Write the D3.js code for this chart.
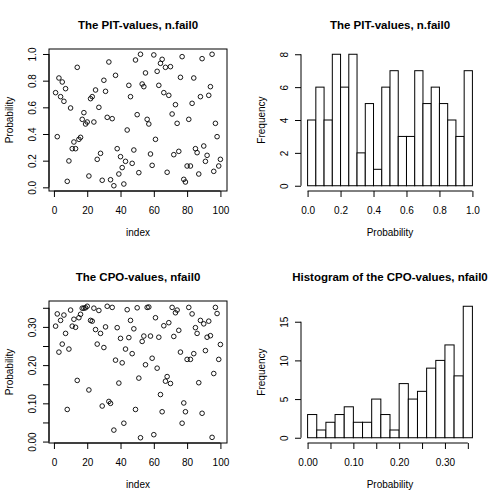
<!DOCTYPE html>
<html>
<head>
<meta charset="utf-8">
<script src="https://cdn.jsdelivr.net/npm/d3@7"></script>
<style>
  html, body { margin: 0; padding: 0; background: #fff; }
  svg { display: block; }
  text { font-family: "Liberation Sans", Arial, Helvetica, sans-serif; fill: #000; }
</style>
</head>
<body>
<svg id="chart" width="504" height="504"></svg>
<script>
// ---------------- data ----------------
const pitValues = [
  0.71, 0.38, 0.82, 0.68, 0.79, 0.645, 0.74, 0.045, 0.198, 0.595,
  0.29, 0.34, 0.29, 0.90, 0.36, 0.375, 0.51, 0.56, 0.475, 0.49,
  0.085, 0.665, 0.68, 0.49, 0.73, 0.21, 0.60, 0.255, 0.053, 0.803,
  0.72, 0.525, 0.94, 0.057, 0.515, 0.012, 0.84, 0.29, 0.10, 0.23,
  0.148, 0.025, 0.195, 0.43, 0.765, 0.68, 0.18, 0.28, 0.955, 0.545,
  0.11, 0.998, 0.775, 0.755, 0.858, 0.51, 0.475, 0.25, 0.165, 0.993,
  0.36, 0.87, 0.765, 0.93, 0.96, 0.71, 0.90, 0.113, 0.69, 0.905,
  0.55, 0.245, 0.62, 0.48, 0.27, 0.825, 0.98, 0.06, 0.04, 0.16,
  0.51, 0.16, 0.63, 0.82, 0.29, 0.26, 0.10, 0.68, 0.965, 0.31,
  0.195, 0.24, 0.69, 0.755, 0.998, 0.12, 0.48, 0.38, 0.16, 0.21
];
const cpoValues = [
  0.302, 0.334, 0.234, 0.317, 0.255, 0.331, 0.283, 0.084, 0.242, 0.344,
  0.302, 0.320, 0.299, 0.160, 0.324, 0.333, 0.349, 0.349, 0.350, 0.354,
  0.135, 0.317, 0.315, 0.349, 0.293, 0.255, 0.343, 0.283, 0.093, 0.246,
  0.300, 0.354, 0.105, 0.100, 0.351, 0.030, 0.213, 0.298, 0.153, 0.270,
  0.206, 0.048, 0.242, 0.345, 0.272, 0.317, 0.230, 0.295, 0.084, 0.350,
  0.166, 0.010, 0.262, 0.276, 0.201, 0.351, 0.352, 0.276, 0.218, 0.018,
  0.324, 0.192, 0.273, 0.123, 0.078, 0.303, 0.158, 0.170, 0.311, 0.152,
  0.351, 0.275, 0.337, 0.344, 0.291, 0.234, 0.048, 0.101, 0.078, 0.215,
  0.351, 0.215, 0.334, 0.230, 0.298, 0.283, 0.154, 0.317, 0.074, 0.308,
  0.238, 0.273, 0.315, 0.277, 0.011, 0.178, 0.351, 0.335, 0.215, 0.254
];
const indexValues = d3.range(1, 101);

const pitBreaks = [0, 0.05, 0.1, 0.15, 0.2, 0.25, 0.3, 0.35, 0.4, 0.45, 0.5,
                   0.55, 0.6, 0.65, 0.7, 0.75, 0.8, 0.85, 0.9, 0.95, 1.0];
const pitCounts = [4, 6, 4, 8, 6, 8, 2, 5, 1, 6, 7, 3, 3, 7, 5, 6, 5, 4, 3, 7];
const cpoBreaks = [0, 0.02, 0.04, 0.06, 0.08, 0.1, 0.12, 0.14, 0.16, 0.18,
                   0.2, 0.22, 0.24, 0.26, 0.28, 0.3, 0.32, 0.34, 0.36];
const cpoCounts = [3, 1, 2, 3, 4, 2, 2, 5, 3, 1, 7, 5, 6, 9, 10, 12, 8, 17];

const indexTicks = [0, 20, 40, 60, 80, 100];
const pitTicks = [0, 0.2, 0.4, 0.6, 0.8, 1.0];
const pitFreqTicks = [0, 2, 4, 6, 8];
const cpoTicks = [0, 0.05, 0.1, 0.15, 0.2, 0.25, 0.3, 0.35];
const cpoLabelled = [0, 0.1, 0.2, 0.3];
const cpoFreqTicks = [0, 5, 10, 15];

const titles = ["The PIT-values, n.fail0", "The PIT-values, n.fail0",
                "The CPO-values, nfail0", "Histogram of the CPO-values, nfail0"];

// ---------------- layout ----------------
const svg = d3.select("#chart");
const P = { left: 49, right: 227, top: 49, bottom: 191 };
const TICK = 6;

function pad(ext) { const d = (ext[1] - ext[0]) * 0.04; return [ext[0] - d, ext[1] + d]; }

function panel(ox, oy) {
  return svg.append("g").attr("transform", `translate(${ox},${oy})`);
}

function decorate(g, title, xlab, ylab) {
  g.append("text").attr("x", (P.left + P.right) / 2).attr("y", 25)
    .attr("text-anchor", "middle").attr("dy", "0.35em")
    .style("font-weight", "bold").style("font-size", "11.5px").text(title);
  g.append("text").attr("x", (P.left + P.right) / 2).attr("y", 232)
    .attr("text-anchor", "middle").attr("dy", "0.35em")
    .style("font-size", "10px").text(xlab);
  g.append("text").attr("transform", `translate(9,${(P.top + P.bottom) / 2}) rotate(-90)`)
    .attr("text-anchor", "middle").attr("dy", "0.35em")
    .style("font-size", "10px").text(ylab);
}

function xAxis(g, x, ticks, fmt) {
  const ax = g.append("g").attr("transform", `translate(0,${P.bottom})`)
    .call(d3.axisBottom(x).tickValues(ticks).tickSize(TICK).tickSizeOuter(0).tickFormat(fmt));
  ax.select(".domain").remove();
  ax.append("line").attr("x1", x(ticks[0])).attr("x2", x(ticks[ticks.length - 1]))
    .attr("stroke", "#000");
  ax.selectAll("text").attr("y", 19).attr("dy", "0.35em")
    .style("font-size", "10px").style("font-family", "Liberation Sans, Arial, sans-serif")
    .attr("fill", "#000");
  ax.selectAll(".tick line").attr("stroke", "#000");
}

function yAxis(g, y, ticks, fmt) {
  const ax = g.append("g").attr("transform", `translate(${P.left},0)`)
    .call(d3.axisLeft(y).tickValues(ticks).tickSize(TICK).tickSizeOuter(0).tickFormat(fmt));
  ax.select(".domain").remove();
  ax.append("line").attr("y1", y(ticks[0])).attr("y2", y(ticks[ticks.length - 1]))
    .attr("stroke", "#000");
  ax.selectAll("text").attr("x", null).attr("dy", null)
    .attr("transform", "translate(-17,0) rotate(-90)")
    .attr("text-anchor", "middle").attr("dy", "0.35em")
    .style("font-size", "10px").style("font-family", "Liberation Sans, Arial, sans-serif")
    .attr("fill", "#000");
  ax.selectAll(".tick line").attr("stroke", "#000");
}

function scatter(ox, oy, values, yTicks, yFmt, title) {
  const g = panel(ox, oy);
  const x = d3.scaleLinear().domain(pad(d3.extent(indexValues))).range([P.left, P.right]);
  const y = d3.scaleLinear().domain(pad(d3.extent(values))).range([P.bottom, P.top]);
  g.append("g").selectAll("circle").data(values).join("circle")
    .attr("cx", (d, i) => x(indexValues[i])).attr("cy", d => y(d)).attr("r", 2.3)
    .attr("fill", "none").attr("stroke", "#000").attr("stroke-width", 0.9);
  g.append("rect").attr("x", P.left).attr("y", P.top)
    .attr("width", P.right - P.left).attr("height", P.bottom - P.top)
    .attr("fill", "none").attr("stroke", "#000");
  xAxis(g, x, indexTicks, d3.format("d"));
  yAxis(g, y, yTicks, yFmt);
  decorate(g, title, "index", "Probability");
}

function histogram(ox, oy, breaks, counts, xTicks, xFmt, yTicksArr, title) {
  const g = panel(ox, oy);
  const x = d3.scaleLinear().domain(pad([breaks[0], breaks[breaks.length - 1]])).range([P.left, P.right]);
  const y = d3.scaleLinear().domain(pad([0, d3.max(counts)])).range([P.bottom, P.top]);
  g.append("g").selectAll("rect").data(counts).join("rect")
    .attr("x", (d, i) => x(breaks[i])).attr("width", (d, i) => x(breaks[i + 1]) - x(breaks[i]))
    .attr("y", d => y(d)).attr("height", d => y(0) - y(d))
    .attr("fill", "#fff").attr("stroke", "#000").attr("stroke-width", 1);
  xAxis(g, x, xTicks, xFmt);
  yAxis(g, y, yTicksArr, d3.format("d"));
  decorate(g, title, "Probability", "Frequency");
}

const fmt1 = d3.format(".1f");
const fmtCpo = d => cpoLabelled.some(v => Math.abs(v - d) < 1e-9) ? d3.format(".2f")(d) : "";

scatter(0, 0, pitValues, pitTicks, fmt1, titles[0]);
histogram(252, 0, pitBreaks, pitCounts, pitTicks, fmt1, pitFreqTicks, titles[1]);
scatter(0, 252, cpoValues, cpoTicks, fmtCpo, titles[2]);
histogram(252, 252, cpoBreaks, cpoCounts, cpoTicks, fmtCpo, cpoFreqTicks, titles[3]);
</script>
</body>
</html>
